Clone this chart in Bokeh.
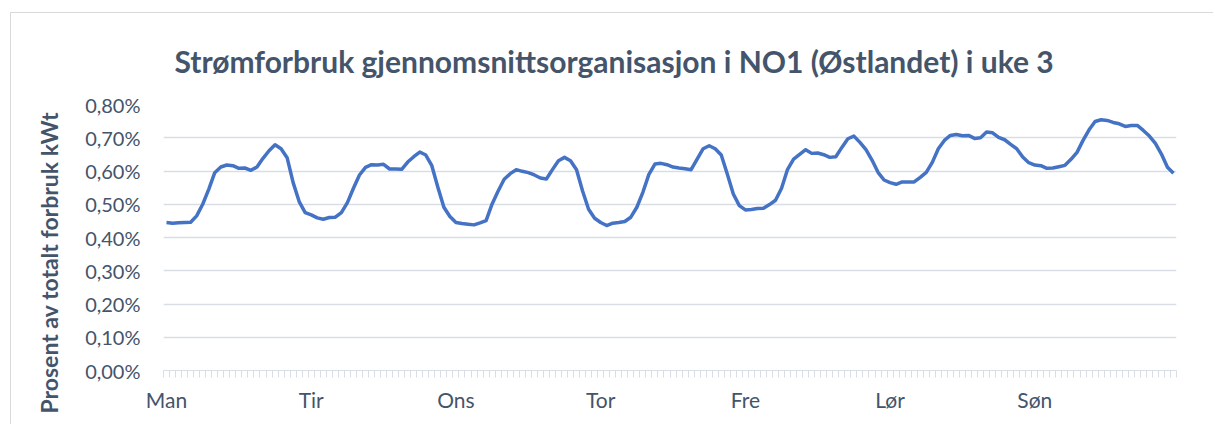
from bokeh.plotting import figure
from bokeh.models import Range1d, FixedTicker, CustomJSTickFormatter, Title
from bokeh.embed import file_html
from bokeh.resources import INLINE

# Hourly share of total weekly consumption (%), one list per weekday
man = [0.445, 0.443, 0.444, 0.445, 0.446, 0.465, 0.500, 0.545, 0.595, 0.612, 0.618, 0.616,
       0.608, 0.609, 0.602, 0.612, 0.638, 0.661, 0.679, 0.667, 0.640, 0.565, 0.508, 0.475]
tir = [0.468, 0.459, 0.455, 0.460, 0.461, 0.475, 0.505, 0.548, 0.588, 0.611, 0.619, 0.618,
       0.620, 0.606, 0.606, 0.605, 0.627, 0.643, 0.657, 0.648, 0.616, 0.551, 0.491, 0.463]
ons = [0.445, 0.442, 0.440, 0.438, 0.444, 0.451, 0.501, 0.540, 0.575, 0.592, 0.604, 0.599,
       0.595, 0.588, 0.579, 0.576, 0.604, 0.631, 0.641, 0.631, 0.604, 0.540, 0.485, 0.458]
tor = [0.445, 0.436, 0.443, 0.445, 0.448, 0.461, 0.491, 0.536, 0.590, 0.621, 0.623, 0.619,
       0.612, 0.609, 0.607, 0.604, 0.636, 0.667, 0.676, 0.667, 0.648, 0.591, 0.531, 0.496]
fre = [0.483, 0.484, 0.487, 0.488, 0.499, 0.512, 0.548, 0.605, 0.636, 0.650, 0.664, 0.653,
       0.654, 0.649, 0.641, 0.643, 0.671, 0.697, 0.705, 0.686, 0.664, 0.633, 0.596, 0.573]
lor = [0.565, 0.560, 0.567, 0.567, 0.567, 0.581, 0.596, 0.626, 0.667, 0.692, 0.707, 0.710,
       0.706, 0.707, 0.698, 0.700, 0.717, 0.715, 0.701, 0.694, 0.680, 0.667, 0.642, 0.625]
son = [0.618, 0.616, 0.608, 0.609, 0.613, 0.617, 0.635, 0.656, 0.692, 0.724, 0.749, 0.754,
       0.752, 0.746, 0.742, 0.734, 0.737, 0.737, 0.722, 0.705, 0.683, 0.651, 0.611, 0.593]

days = ["Man", "Tir", "Ons", "Tor", "Fre", "Lør", "Søn"]
y_ticks = [0.0, 0.1, 0.2, 0.3, 0.4, 0.5, 0.6, 0.7, 0.8]
title_text = "Strømforbruk gjennomsnittsorganisasjon i NO1 (Østlandet) i uke 3"
y_label = "Prosent av totalt forbruk kWt"

values = man + tir + ons + tor + fre + lor + son
hours = list(range(len(values)))

TEXT = "#44546A"
GRID = "#D9DEE6"
FONT = "Lato"

# figure host placed at (10,12) with a faint top/left border, content starts at (11,13)
p = figure(width=1203, height=412, output_backend="svg", toolbar_location=None,
           x_range=Range1d(-0.5, len(values) - 0.5), y_range=Range1d(0, 0.8),
           min_border_left=152, min_border_right=38, min_border_top=91, min_border_bottom=55)
p.outline_line_color = None
p.styles = {"margin-left": "10px", "margin-top": "12px",
            "border-left": "1px solid #D9D9D9", "border-top": "1px solid #D9D9D9"}

p.line(hours, values, line_color="#4472C4", line_width=3.5, line_join="round")

# chart title
p.title.text = title_text
p.title.text_font = FONT
p.title.text_font_size = "30px"
p.title.text_font_style = "bold"
p.title.text_color = TEXT
p.title.align = "left"
p.title.offset = 11
p.title.standoff = 52

# y axis title as a left-side title
yt = Title(text=y_label, align="left", offset=-43, text_font=FONT, text_font_size="23px",
           text_font_style="bold", text_color=TEXT, standoff=40)
p.add_layout(yt, "left")

# x axis
xa = p.xaxis[0]
xa.ticker = FixedTicker(ticks=[24 * i for i in range(len(days))],
                        minor_ticks=[i - 0.5 for i in range(len(values) + 1)])
xa.major_label_overrides = {24 * i: d for i, d in enumerate(days)}
xa.major_tick_line_color = None
xa.major_tick_in = 0
xa.major_tick_out = 0
xa.minor_tick_in = 0
xa.minor_tick_out = 7
xa.minor_tick_line_color = GRID
xa.axis_line_color = GRID
xa.axis_line_width = 1
xa.major_label_standoff = 9
xa.major_label_text_font = FONT
xa.major_label_text_font_size = "21px"
xa.major_label_text_color = TEXT

# y axis
ya = p.yaxis[0]
ya.ticker = FixedTicker(ticks=y_ticks)
ya.formatter = CustomJSTickFormatter(code="return tick.toFixed(2).replace('.', ',') + '%';")
ya.axis_line_color = None
ya.major_tick_line_color = None
ya.minor_tick_line_color = None
ya.major_label_standoff = 17
ya.major_label_text_font = FONT
ya.major_label_text_font_size = "20px"
ya.major_label_text_color = TEXT

p.xgrid.grid_line_color = None
p.ygrid.grid_line_color = GRID
p.ygrid.grid_line_width = 1.5

open("out.html", "w").write(file_html(p, INLINE))
